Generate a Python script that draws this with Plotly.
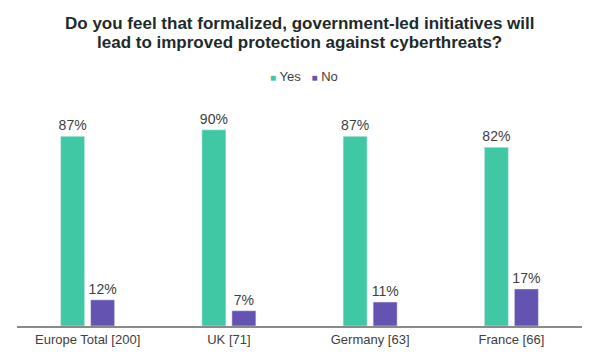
import plotly.graph_objects as go

categories = ["Europe Total [200]", "UK [71]", "Germany [63]", "France [66]"]
yes_values = [87, 90, 87, 82]
no_values = [12, 7, 11, 17]
series_names = ["Yes", "No"]
title_lines = ["Do you feel that formalized, government-led initiatives will",
               "lead to improved protection against cyberthreats?"]

GREEN = "#40C8A5"
PURPLE = "#6553B2"
FONT = "Liberation Sans, Arial, sans-serif"
TXT = "#404040"

fig = go.Figure()
for name, vals, col in [(series_names[0], yes_values, GREEN), (series_names[1], no_values, PURPLE)]:
    fig.add_trace(go.Bar(name=name, x=categories, y=vals, marker_color=col,
                         text=[f"{v}%" for v in vals], textposition="outside",
                         constraintext="none",
                         textfont=dict(size=14, color=TXT, family=FONT), cliponaxis=False))

PLOT_TOP, PLOT_H = 108, 218
def py(y):
    return (PLOT_TOP + PLOT_H - y) / PLOT_H

annotations = [
    dict(text=f"<b>{title_lines[0]}</b>", x=0.5, y=py(23), xref="paper", yref="paper",
         xanchor="center", yanchor="middle", showarrow=False,
         font=dict(family=FONT, size=17, color="#1e2b2b")),
    dict(text=f"<b>{title_lines[1]}</b>", x=0.5, y=py(43), xref="paper", yref="paper",
         xanchor="center", yanchor="middle", showarrow=False,
         font=dict(family=FONT, size=17, color="#1e2b2b")),
    dict(text=(f"<span style='color:{GREEN};font-size:10px'>■</span> {series_names[0]}   "
               f"<span style='color:{PURPLE};font-size:10px'>■</span> {series_names[1]}"),
         x=0.5, xshift=4, y=py(76), xref="paper", yref="paper",
         xanchor="center", yanchor="middle", showarrow=False,
         font=dict(family=FONT, size=13, color=TXT)),
]

fig.update_layout(
    width=600, height=360,
    margin=dict(l=17, r=18, t=PLOT_TOP, b=360 - PLOT_TOP - PLOT_H, autoexpand=False),
    paper_bgcolor="white", plot_bgcolor="white",
    font=dict(family=FONT, size=13, color=TXT),
    barmode="group", bargap=0.575, bargroupgap=0.2,
    showlegend=False,
    annotations=annotations,
)
fig.update_xaxes(showline=True, linecolor="#8a8a8a", linewidth=2, ticks="",
                 tickfont=dict(size=13, color=TXT, family=FONT), automargin=False)
fig.update_yaxes(range=[0, 100], visible=False, showgrid=False, automargin=False)

fig.write_html("out.html", config={"displayModeBar": False},
               post_script="document.body.style.margin='0';document.body.style.padding='0';")
